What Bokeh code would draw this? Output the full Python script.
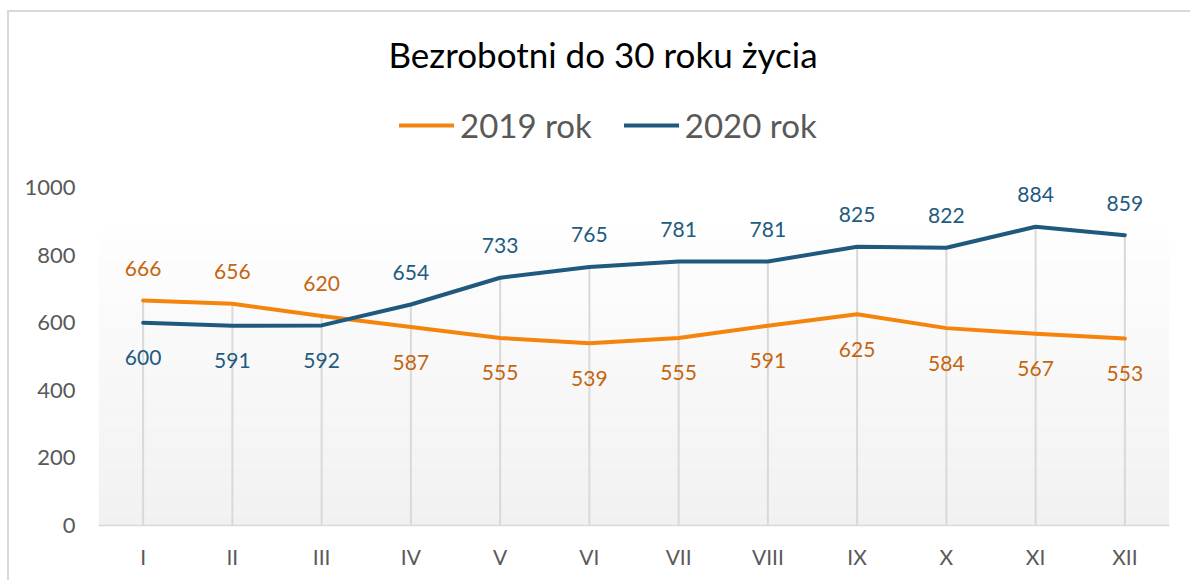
from bokeh.plotting import figure
from bokeh.models import (Range1d, FactorRange, Legend, LegendItem, BoxAnnotation,
                          ColumnDataSource, FixedTicker)
from bokeh.embed import file_html
from bokeh.resources import INLINE
from bokeh.core.properties import value

# ---- data ----
months = ["I", "II", "III", "IV", "V", "VI", "VII", "VIII", "IX", "X", "XI", "XII"]
y2019 = [666, 656, 620, 587, 555, 539, 555, 591, 625, 584, 567, 553]
y2020 = [600, 591, 592, 654, 733, 765, 781, 781, 825, 822, 884, 859]
series_names = ["2019 rok", "2020 rok"]
title_text = "Bezrobotni do 30 roku życia"
y_ticks = [0, 200, 400, 600, 800, 1000]

# ---- styles ----
FONT = "Lato"
ORANGE, ORANGE_TXT = "#F5840C", "#C5650F"
BLUE, BLUE_TXT = "#1F5A7E", "#215B80"
GRAY_TXT = "#595959"
GRID = "#D9D9D9"

p = figure(width=1190, height=580,
           x_range=FactorRange(*months, range_padding=0),
           y_range=Range1d(0, 1293),
           output_backend="svg", toolbar_location=None,
           min_border_left=98, min_border_right=21,
           min_border_bottom=55, min_border_top=88)

# chart-area border (left and top edges, as in the reference crop)
p.border_fill_alpha = 0
p.styles = {"background": ("linear-gradient(#D9D9D9,#D9D9D9) 7px 10px / 2px 570px no-repeat, "
                           "linear-gradient(#D9D9D9,#D9D9D9) 7px 10px / 1183px 2px no-repeat, "
                           "#FFFFFF")}

# gradient background of the plot area (white at top -> light gray at bottom)
grad_top = 873
n_bands = 30
for i in range(n_bands):
    frac = (i + 0.5) / n_bands
    c = int(round(241 + (254 - 241) * frac))
    p.add_layout(BoxAnnotation(bottom=grad_top * i / n_bands, top=grad_top * (i + 1) / n_bands,
                               fill_color=f"#{c:02x}{c:02x}{c:02x}", fill_alpha=1,
                               line_alpha=0, level="underlay"))

# drop lines
tops = [max(a, b) for a, b in zip(y2019, y2020)]
p.segment(x0=months, y0=[0] * len(months), x1=months, y1=tops,
          line_color=GRID, line_width=2)

r1 = p.line(months, y2019, line_color=ORANGE, line_width=4, line_join="round", line_cap="round")
r2 = p.line(months, y2020, line_color=BLUE, line_width=4, line_join="round", line_cap="round")

# data labels: above if the series is the higher one at that month
for vals, other, col in ((y2019, y2020, ORANGE_TXT), (y2020, y2019, BLUE_TXT)):
    src = ColumnDataSource(dict(x=months, y=vals, t=[str(v) for v in vals],
                                off=[-32 if a > b else 35 for a, b in zip(vals, other)]))
    p.text(x="x", y="y", text="t", y_offset="off", source=src,
           text_align="center", text_baseline="middle",
           text_font=value(FONT), text_font_size="21px", text_color=col)

# axes
p.xgrid.grid_line_color = None
p.ygrid.grid_line_color = None
p.outline_line_color = None

p.xaxis.axis_line_color = GRID
p.xaxis.axis_line_width = 1.5
p.xaxis.major_tick_line_color = None
p.xaxis.minor_tick_line_color = None
p.xaxis.major_tick_out = 0
p.xaxis.major_label_text_font = FONT
p.xaxis.major_label_text_font_size = "21px"
p.xaxis.major_label_text_color = GRAY_TXT
p.xaxis.major_label_standoff = 18

p.yaxis.ticker = FixedTicker(ticks=y_ticks)
p.yaxis.axis_line_color = None
p.yaxis.major_tick_line_color = None
p.yaxis.minor_tick_line_color = None
p.yaxis.major_tick_out = 0
p.yaxis.major_label_text_font = FONT
p.yaxis.major_label_text_font_size = "22px"
p.yaxis.major_label_text_color = GRAY_TXT
p.yaxis.major_label_standoff = 23

# title
p.title.text = title_text
p.title.align = "left"
p.title.offset = 290
p.title.text_font = FONT
p.title.text_font_size = "35px"
p.title.text_font_style = "normal"
p.title.text_color = "#000000"
p.title.standoff = 28

# legend
legend = Legend(items=[LegendItem(label=series_names[0], renderers=[r1]),
                       LegendItem(label=series_names[1], renderers=[r2])],
                orientation="horizontal", location=(301, 380),
                glyph_width=55, glyph_height=20, label_standoff=6, spacing=32,
                padding=0, margin=0, border_line_color=None, background_fill_alpha=0,
                label_text_font=FONT, label_text_font_size="33px",
                label_text_color=GRAY_TXT)
p.add_layout(legend)

open("out.html", "w").write(file_html(p, INLINE))
